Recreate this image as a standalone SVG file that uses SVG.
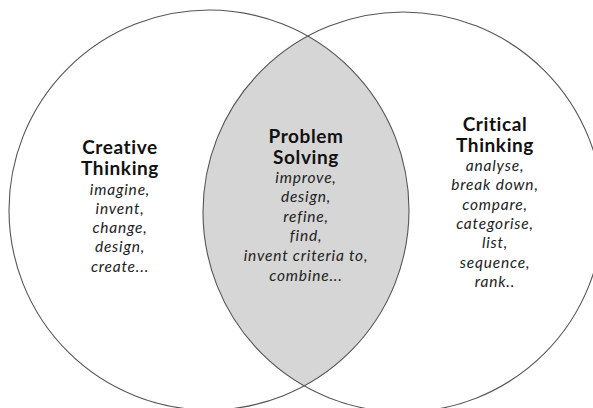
<svg xmlns="http://www.w3.org/2000/svg" width="593" height="408" viewBox="0 0 593 408">
<style>
  .c { fill: none; stroke: #555; stroke-width: 1.1; }
  .h { font-family: Lato, "Liberation Sans", sans-serif; font-weight: bold; font-size: 19px; letter-spacing: 0.6px; fill: #111; text-anchor: middle; }
  .i { font-family: Lato, "Liberation Sans", sans-serif; font-style: italic; font-size: 15.5px; letter-spacing: 0.8px; fill: #222; text-anchor: middle; }
</style>
<defs>
  <clipPath id="clipL"><circle cx="209" cy="210" r="200"/></clipPath>
</defs>
<rect width="593" height="408" fill="#fff"/>
<g id="lens">
  <circle cx="403" cy="212" r="200" fill="#d6d6d6" clip-path="url(#clipL)"/>
</g>
<g id="creative">
  <circle class="c" cx="209" cy="210" r="200"/>
  <text class="h" x="120" y="154">Creative</text>
  <text class="h" x="120" y="175">Thinking</text>
  <text class="i" x="120" y="195">imagine,</text>
  <text class="i" x="120" y="214">invent,</text>
  <text class="i" x="120" y="233">change,</text>
  <text class="i" x="120" y="252">design,</text>
  <text class="i" x="120" y="272">create...</text>
</g>
<g id="critical">
  <circle class="c" cx="403" cy="212" r="200"/>
  <text class="h" x="495" y="131">Critical</text>
  <text class="h" x="495" y="152">Thinking</text>
  <text class="i" x="495" y="171">analyse,</text>
  <text class="i" x="495" y="190">break down,</text>
  <text class="i" x="495" y="210">compare,</text>
  <text class="i" x="495" y="229">categorise,</text>
  <text class="i" x="495" y="248">list,</text>
  <text class="i" x="495" y="268">sequence,</text>
  <text class="i" x="495" y="287">rank..</text>
</g>
<g id="problem">
  <text class="h" x="306" y="143">Problem</text>
  <text class="h" x="306" y="164">Solving</text>
  <text class="i" x="306" y="183">improve,</text>
  <text class="i" x="306" y="202">design,</text>
  <text class="i" x="306" y="222">refine,</text>
  <text class="i" x="306" y="241">find,</text>
  <text class="i" x="306" y="261">invent criteria to,</text>
  <text class="i" x="306" y="281">combine...</text>
</g>
</svg>
